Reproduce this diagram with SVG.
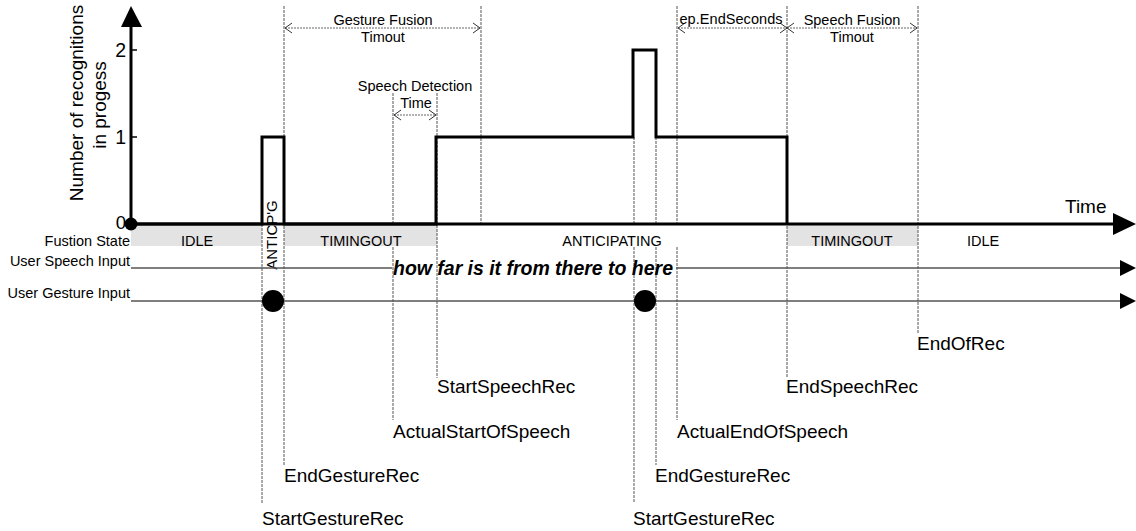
<svg xmlns="http://www.w3.org/2000/svg" width="1136" height="531" viewBox="0 0 1136 531">
  <style>
    text { font-family: "Liberation Sans", Arial, sans-serif; fill: #000; }
    .big { font-size: 19px; }
    .small { font-size: 14.5px; }
    .mid { text-anchor: middle; }
    .end { text-anchor: end; }
    .guide { stroke: #555; stroke-width: 1; stroke-dasharray: 3 1; fill: none; }
    .dim { stroke: #666; stroke-width: 1; stroke-dasharray: 2 1; fill: none; }
    .input { stroke: #555; stroke-width: 1.5; fill: none; }
    .trace { stroke: #000; stroke-width: 3; fill: none; stroke-linejoin: miter; }
    .axis { stroke: #000; stroke-width: 3; fill: none; }
    .band { fill: #e3e3e3; }
  </style>
  <defs>
    <marker id="chev" viewBox="-8 -6 9 12" refX="0" refY="0" markerWidth="9" markerHeight="12" markerUnits="userSpaceOnUse" orient="auto-start-reverse">
      <path d="M-7,-5 L0,0 L-7,5" fill="none" stroke="#333" stroke-width="1"/>
    </marker>
  </defs>

  <rect width="1136" height="531" fill="#fff"/>

  <!-- fusion state band -->
  <g id="state-band">
    <rect class="band" x="131" y="225" width="131" height="21"/>
    <rect class="band" x="284" y="225" width="153" height="21"/>
    <rect class="band" x="787" y="225" width="131" height="21"/>
  </g>

  <!-- vertical event guides and dimension markers -->
  <g id="connectors">
    <line class="guide" x1="262" y1="224" x2="262" y2="503"/>
    <line class="guide" x1="284" y1="6" x2="284" y2="465"/>
    <path class="guide" d="M393,93 V224 M393,247 V420"/>
    <line class="guide" x1="437" y1="93" x2="437" y2="378"/>
    <line class="guide" x1="481" y1="6" x2="481" y2="224"/>
    <path class="guide" d="M634,137 V224 M634,247 V503"/>
    <path class="guide" d="M656,137 V224 M656,247 V465"/>
    <path class="guide" d="M677,6 V224 M677,247 V420"/>
    <line class="guide" x1="787" y1="6" x2="787" y2="378"/>
    <line class="guide" x1="918" y1="6" x2="918" y2="333"/>

    <line class="dim" x1="285" y1="28" x2="480" y2="28" marker-start="url(#chev)" marker-end="url(#chev)"/>
    <line class="dim" x1="394" y1="115" x2="436" y2="115" marker-start="url(#chev)" marker-end="url(#chev)"/>
    <line class="dim" x1="678" y1="28" x2="787" y2="28" marker-start="url(#chev)" marker-end="url(#chev)"/>
    <line class="dim" x1="787" y1="28" x2="917" y2="28" marker-start="url(#chev)" marker-end="url(#chev)"/>
  </g>

  <!-- axes -->
  <g id="axes">
    <line class="axis" x1="131" y1="224" x2="131" y2="26"/>
    <polygon points="131,6 121,27 142,27" fill="#000"/>
    <line class="axis" x1="131" y1="224" x2="1114" y2="224"/>
    <polygon points="1113,213 1136,224 1113,235" fill="#000"/>
    <line x1="131" y1="50" x2="137" y2="50" stroke="#000" stroke-width="1.5"/>
    <line x1="131" y1="137" x2="137" y2="137" stroke="#000" stroke-width="1.5"/>
    <circle cx="131" cy="224" r="6.5" fill="#000"/>
    <text class="end" x="126" y="57" style="font-size:19.5px">2</text>
    <text class="end" x="126" y="144" style="font-size:19.5px">1</text>
    <text class="end" x="126" y="229" style="font-size:18.5px">0</text>
    <text class="big mid" transform="translate(83,103) rotate(-90)">Number of recognitions</text>
    <text class="big mid" transform="translate(106,105) rotate(-90)">in progess</text>
    <text class="big" x="1065" y="213">Time</text>
  </g>

  <!-- recognitions in progress -->
  <g id="trace">
    <polyline class="trace" points="131,224 262,224 262,137 284,137 284,224 436,224 436,137 633,137 633,50 656,50 656,137 787,137 787,224"/>
  </g>

  <!-- state labels -->
  <g id="states">
    <text class="small end" x="130" y="246">Fustion State</text>
    <text class="small mid" x="197" y="245.5">IDLE</text>
    <text class="small mid" transform="translate(277,235) rotate(-90)" style="font-size:15px">ANTICP'G</text>
    <text class="small mid" x="361" y="245.5">TIMINGOUT</text>
    <text class="small mid" x="612" y="245.5">ANTICIPATING</text>
    <text class="small mid" x="852" y="245.5">TIMINGOUT</text>
    <text class="small mid" x="983" y="245.5">IDLE</text>
  </g>

  <!-- user speech input -->
  <g id="speech-input">
    <text class="small end" x="130" y="266">User Speech Input</text>
    <path class="input" d="M131,268 H392 M676,268 H1121"/>
    <polygon points="1120,260 1136,268 1120,276" fill="#000"/>
    <text class="mid" x="533" y="275" textLength="280" style="font-size:19.5px;font-weight:bold;font-style:italic">how far is it from there to here</text>
  </g>

  <!-- user gesture input -->
  <g id="gesture-input">
    <text class="small end" x="130" y="298">User Gesture Input</text>
    <line class="input" x1="131" y1="301" x2="1121" y2="301"/>
    <polygon points="1120,293 1136,301 1120,309" fill="#000"/>
    <circle cx="273" cy="301" r="11" fill="#000"/>
    <circle cx="645" cy="301" r="11" fill="#000"/>
  </g>

  <!-- interval labels -->
  <g id="intervals">
    <text class="small mid" x="383" y="25">Gesture Fusion</text>
    <text class="small mid" x="383" y="42">Timout</text>
    <text class="small mid" x="415" y="91">Speech Detection</text>
    <text class="small mid" x="416" y="108">Time</text>
    <text class="small mid" x="731" y="24" textLength="103">ep.EndSeconds</text>
    <text class="small mid" x="852" y="25">Speech Fusion</text>
    <text class="small mid" x="852" y="42">Timout</text>
  </g>

  <!-- event labels -->
  <g id="events">
    <text class="big" x="262" y="525">StartGestureRec</text>
    <text class="big" x="284" y="482">EndGestureRec</text>
    <text class="big" x="393" y="438">ActualStartOfSpeech</text>
    <text class="big" x="437" y="393">StartSpeechRec</text>
    <text class="big" x="633" y="525">StartGestureRec</text>
    <text class="big" x="655" y="482">EndGestureRec</text>
    <text class="big" x="677" y="438">ActualEndOfSpeech</text>
    <text class="big" x="786" y="393">EndSpeechRec</text>
    <text class="big" x="917" y="350">EndOfRec</text>
  </g>
</svg>
